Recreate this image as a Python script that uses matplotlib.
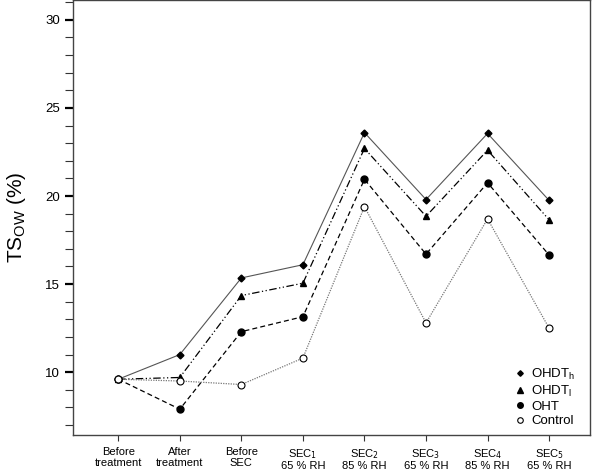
import numpy as np
import matplotlib
matplotlib.use("Agg")
import matplotlib.pyplot as plt
from matplotlib.ticker import MultipleLocator

plt.rcParams['font.family'] = ['Liberation Sans', 'DejaVu Sans']

# categories on the x axis
stages = ['Before\ntreatment', 'After\ntreatment', 'Before\nSEC',
          'SEC$_1$\n65 % RH', 'SEC$_2$\n85 % RH', 'SEC$_3$\n65 % RH',
          'SEC$_4$\n85 % RH', 'SEC$_5$\n65 % RH']

# TS_OW values (%)
ohdt_h = [9.6, 11.0, 15.35, 16.1, 23.6, 19.8, 23.55, 19.75]
ohdt_l = [9.6, 9.7, 14.35, 15.05, 22.7, 18.85, 22.6, 18.65]
oht = [9.6, 7.9, 12.3, 13.15, 20.95, 16.7, 20.75, 16.65]
control = [9.6, 9.5, 9.3, 10.8, 19.4, 12.8, 18.7, 12.5]

x = np.arange(len(stages))

fig = plt.figure(figsize=(5.96, 4.71), dpi=100)
ax = fig.add_axes([0.1225, 0.077, 0.867, 0.922])

ax.plot(x, ohdt_h, color='#555555', lw=0.8, ls='-', marker='D', ms=3.5,
        mfc='black', mec='black', label='OHDT$_\\mathregular{h}$')
ax.plot(x, ohdt_l, color='black', lw=0.9, ls=(0, (6, 2, 1, 2, 1, 2)), marker='^', ms=5,
        mfc='black', mec='black', label='OHDT$_\\mathregular{l}$')
ax.plot(x, oht, color='black', lw=0.9, ls=(0, (4, 2.5)), marker='o', ms=5,
        mfc='black', mec='black', label='OHT')
ax.plot(x, control, color='#777777', lw=0.9, ls=(0, (1, 1)), marker='o', ms=5,
        mfc='white', mec='black', mew=0.8, label='Control')

ax.set_xlim(-0.735, 7.66)
ax.set_ylim(6.45, 31.1)
ax.set_xticks(x)
ax.set_xticklabels(stages, fontsize=8, linespacing=1.05)
ax.yaxis.set_major_locator(MultipleLocator(5))
ax.yaxis.set_minor_locator(MultipleLocator(1))
ax.set_yticks([10, 15, 20, 25, 30])
ax.tick_params(axis='y', which='major', length=6, width=1.6, labelsize=9.5, color='black')
ax.tick_params(axis='y', which='minor', length=6, width=0.8, color='#333333')
ax.tick_params(axis='x', length=4, width=0.8, color='#333333', pad=5)

for s in ax.spines.values():
    s.set_color('#444444')
    s.set_linewidth(1.0)

ax.set_ylabel('TS$_\\mathregular{OW}$ (%)', fontsize=15, labelpad=12)

leg = ax.legend(loc='lower right', frameon=False, handlelength=0.5, handletextpad=0.6,
                labelspacing=0.15, fontsize=9.5, markerscale=0.8,
                bbox_to_anchor=(0.995, -0.01))
for h in leg.legend_handles:
    h.set_linestyle('None')

fig.savefig('out.png', dpi=100)
